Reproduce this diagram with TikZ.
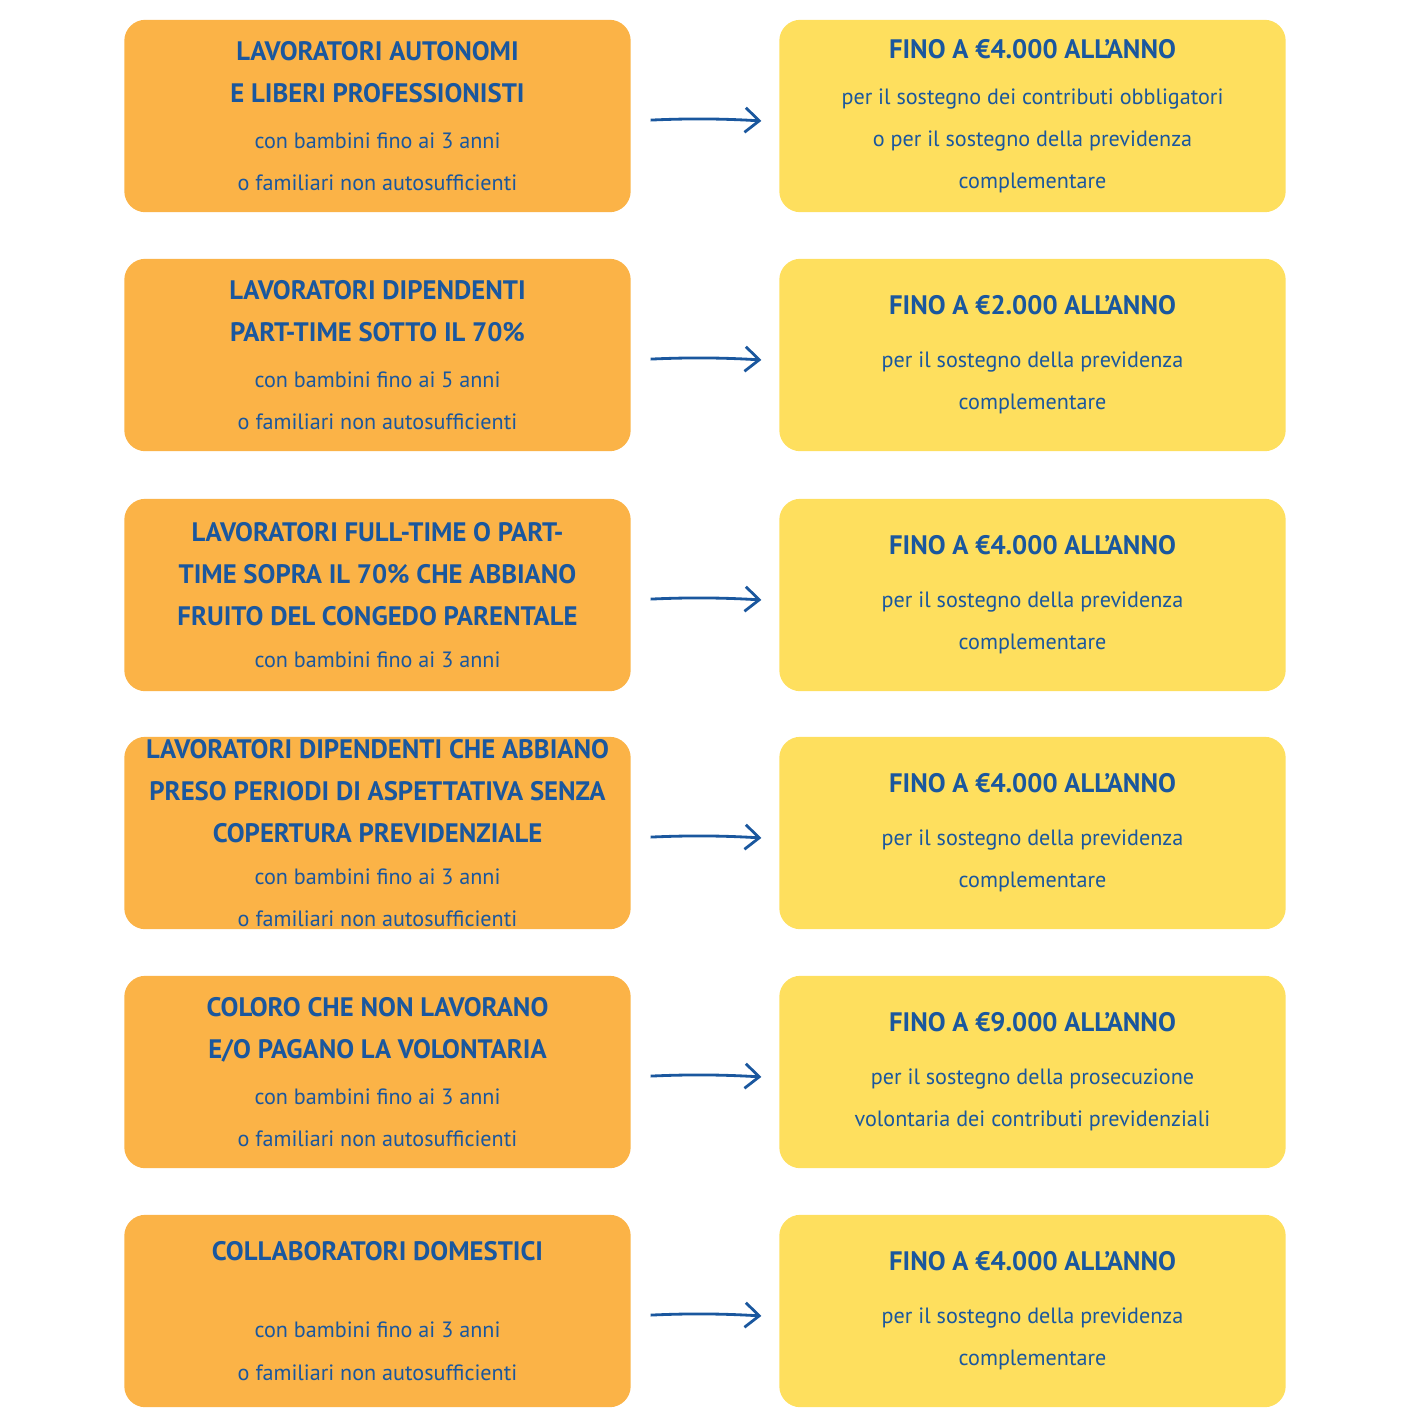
\documentclass[tikz,border=0pt]{standalone}
\usepackage{fontspec}
\setmainfont{PT Sans}
\usetikzlibrary{arrows.meta,backgrounds}
\definecolor{arancio}{HTML}{FBB347}
\definecolor{giallo}{HTML}{FEDF5E}
\definecolor{blu}{HTML}{1A579E}
\newcommand{\titfont}{\fontsize{7.6}{11}\selectfont\bfseries}
\newcommand{\subfont}{\fontsize{6.3}{9.1}\selectfont\mdseries}
\tikzset{
  box/.style={minimum width=5.05cm, minimum height=1.91cm, align=center,
    text=blu, inner sep=0pt},
  macchia/.style={fill=#1, rounded corners=6pt},
  freccia/.style={blu, thick, -{Straight Barb[length=4pt,width=7pt]},
    shorten <=0.2cm, shorten >=0.18cm}
}
\begin{document}
\begin{tikzpicture}
\useasboundingbox (0,0) rectangle (14.14,-14.28);

\node[box] (l1) at (3.775,-1.16) {\titfont LAVORATORI AUTONOMI\\\titfont E LIBERI PROFESSIONISTI\\[1pt]\subfont con bambini fino ai 3 anni\\\subfont o familiari non autosufficienti};
\node[box] (r1) at (10.325,-1.16) {\titfont FINO A €4.000 ALL’ANNO\\[1pt]\subfont per il sostegno dei contributi obbligatori\\\subfont o per il sostegno della previdenza\\\subfont complementare};

\node[box] (l2) at (3.775,-3.55) {\titfont LAVORATORI DIPENDENTI\\\titfont PART-TIME SOTTO IL 70\%\\[1pt]\subfont con bambini fino ai 5 anni\\\subfont o familiari non autosufficienti};
\node[box] (r2) at (10.325,-3.55) {\titfont FINO A €2.000 ALL’ANNO\\[3pt]\subfont per il sostegno della previdenza\\\subfont complementare};

\node[box] (l3) at (3.775,-5.95) {\titfont LAVORATORI FULL-TIME O PART-\\\titfont TIME SOPRA IL 70\% CHE ABBIANO\\\titfont FRUITO DEL CONGEDO PARENTALE\\\subfont con bambini fino ai 3 anni};
\node[box] (r3) at (10.325,-5.95) {\titfont FINO A €4.000 ALL’ANNO\\[3pt]\subfont per il sostegno della previdenza\\\subfont complementare};

\node[box] (l4) at (3.775,-8.33) {\titfont LAVORATORI DIPENDENTI CHE ABBIANO\\\titfont PRESO PERIODI DI ASPETTATIVA SENZA\\\titfont COPERTURA PREVIDENZIALE\\\subfont con bambini fino ai 3 anni\\\subfont o familiari non autosufficienti};
\node[box] (r4) at (10.325,-8.33) {\titfont FINO A €4.000 ALL’ANNO\\[3pt]\subfont per il sostegno della previdenza\\\subfont complementare};

\node[box] (l5) at (3.775,-10.72) {\titfont COLORO CHE NON LAVORANO\\\titfont E/O PAGANO LA VOLONTARIA\\[1pt]\subfont con bambini fino ai 3 anni\\\subfont o familiari non autosufficienti};
\node[box] (r5) at (10.325,-10.72) {\titfont FINO A €9.000 ALL’ANNO\\[3pt]\subfont per il sostegno della prosecuzione\\\subfont volontaria dei contributi previdenziali};

\node[box] (l6) at (3.775,-13.11) {\titfont COLLABORATORI DOMESTICI\\[10pt]\subfont con bambini fino ai 3 anni\\\subfont o familiari non autosufficienti};
\node[box] (r6) at (10.325,-13.11) {\titfont FINO A €4.000 ALL’ANNO\\[3pt]\subfont per il sostegno della previdenza\\\subfont complementare};

\begin{scope}[on background layer]
  \foreach \i in {1,...,6} {
    \path[macchia=arancio] (l\i.north west) rectangle (l\i.south east);
    \path[macchia=giallo] (r\i.north west) rectangle (r\i.south east);
  }
\end{scope}

\foreach \i in {1,...,6}
  \draw[freccia] ([yshift=-0.05cm]l\i.east) to[bend left=3] ([yshift=-0.06cm]r\i.west);
\end{tikzpicture}
\end{document}
